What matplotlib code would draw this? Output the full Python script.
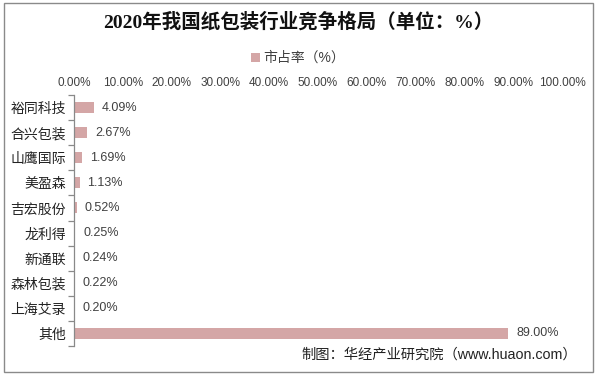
import matplotlib
matplotlib.use("Agg")
import matplotlib.pyplot as plt
import numpy as np
from matplotlib.patches import Rectangle

plt.rcParams['font.family'] = ['Liberation Sans', 'Noto Sans CJK SC']

categories = ["裕同科技", "合兴包装", "山鹰国际", "美盈森", "吉宏股份", "龙利得", "新通联", "森林包装", "上海艾录", "其他"]
values = [4.09, 2.67, 1.69, 1.13, 0.52, 0.25, 0.24, 0.22, 0.20, 89.00]
xticks = [0, 10, 20, 30, 40, 50, 60, 70, 80, 90, 100]
series_name = "市占率（%）"
title = "2020年我国纸包装行业竞争格局（单位：%）"
source = "制图：华经产业研究院（www.huaon.com）"

bar_color = "#d4a6a6"
W, H = 596, 377
fig = plt.figure(figsize=(W / 100, H / 100), dpi=100)
ax = fig.add_axes([74 / W, 1 - 346 / H, (562 - 74) / W, (346 - 95) / H])

y = np.arange(len(categories))
ax.barh(y, values, height=0.44, color=bar_color, label=series_name)
for yi, v in zip(y, values):
    ax.text(v + 1.6, yi, f"{v:.2f}%", va="center", ha="left", fontsize=9, color="#404040")

ax.set_xlim(0, 100)
ax.set_ylim(len(categories) - 0.5, -0.5)
ax.xaxis.tick_top()
ax.set_xticks(xticks)
ax.set_xticklabels([f"{t:.2f}%" for t in xticks], fontsize=8.5, color="#404040")
ax.tick_params(axis="x", length=0, pad=4)
ax.set_yticks(y)
ax.set_yticklabels(categories, fontsize=10, color="#222222")
ax.tick_params(axis="y", which="major", length=0, pad=6)
ax.set_yticks(np.arange(-0.5, len(categories) + 0.5, 1), minor=True)
ax.tick_params(axis="y", which="minor", length=4, color="#898989", width=0.9)
for s in ["top", "right", "bottom"]:
    ax.spines[s].set_visible(False)
ax.spines["left"].set_color("#898989")
ax.spines["left"].set_linewidth(0.9)

fig.text(0.5, 1 - 22 / H, title, ha="center", va="center", fontsize=14, fontweight="bold",
         family=["Liberation Serif", "Noto Sans CJK SC"], color="#111111")

leg = fig.legend(loc="center", bbox_to_anchor=(0.5, 1 - 58 / H), frameon=False, fontsize=10,
                 handlelength=0.6, handleheight=0.6, handletextpad=0.25)
for t in leg.get_texts():
    t.set_color("#404040")

fig.text(577 / W, 1 - 355 / H, source, ha="right", va="center", fontsize=10.3, color="#222222")

fig.patches.append(Rectangle((4 / W, 1 - 372 / H), (593 - 4) / W, (372 - 3) / H, transform=fig.transFigure,
                             fill=False, edgecolor="#8a8a8a", linewidth=1.0))

fig.savefig("out.png", dpi=100, facecolor="white")
